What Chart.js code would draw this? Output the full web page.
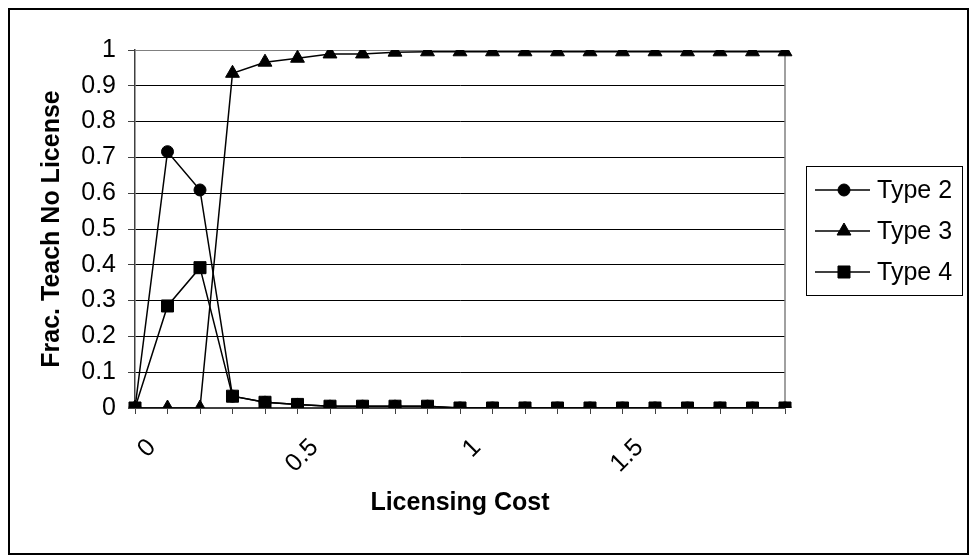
<!DOCTYPE html>
<html>
<head>
<meta charset="utf-8">
<script src="https://cdn.jsdelivr.net/npm/chart.js@4.4.1/dist/chart.umd.min.js"></script>
<style>
  html, body { margin: 0; padding: 0; background: #fff; }
  #wrap { width: 973px; height: 560px; }
</style>
</head>
<body>
<div id="wrap"><canvas id="c" width="973" height="560"></canvas></div>
<script>
// Licensing cost categories (x axis)
const costs = ['0','0.1','0.2','0.3','0.4','0.5','0.6','0.7','0.8','0.9',
               '1','1.1','1.2','1.3','1.4','1.5','1.6','1.7','1.8','1.9','2'];
// Category labels that are printed under the axis
const xTickLabels = ['0', '0.5', '1', '1.5'];

// Fraction of agents that teach with no license
const type2 = [0, 0.716, 0.609, 0.033, 0.016, 0.010, 0.005, 0.005, 0.005, 0.005,
               0, 0, 0, 0, 0, 0, 0, 0, 0, 0, 0];
const type3 = [0, 0, 0, 0.935, 0.966, 0.977, 0.989, 0.989, 0.994, 0.995,
               0.995, 0.995, 0.995, 0.995, 0.995, 0.995, 0.995, 0.995, 0.995, 0.995, 0.995];
const type4 = [0, 0.285, 0.392, 0.033, 0.016, 0.010, 0.005, 0.005, 0.005, 0.005,
               0, 0, 0, 0, 0, 0, 0, 0, 0, 0, 0];

const seriesNames = ['Type 2', 'Type 3', 'Type 4'];
const yTitle = 'Frac. Teach No License';
const xTitle = 'Licensing Cost';

const FONT = "'Liberation Sans', Arial, Helvetica, sans-serif";
Chart.defaults.font.family = FONT;
Chart.defaults.color = '#000';

// Chart frame, plot-area border and the boxed legend
const frame = {
  id: 'frame',
  beforeDraw(chart) {
    const ctx = chart.ctx;
    ctx.save();
    ctx.fillStyle = '#fff';
    ctx.fillRect(0, 0, chart.width, chart.height);
    ctx.strokeStyle = '#000';
    ctx.lineWidth = 2;
    ctx.strokeRect(9, 9, chart.width - 14, chart.height - 15);
    ctx.restore();
  },
  beforeDatasetsDraw(chart) {
    const { ctx, chartArea: a } = chart;
    ctx.save();
    ctx.strokeStyle = '#808080';
    ctx.lineWidth = 1.5;
    ctx.beginPath();
    ctx.moveTo(a.right, a.top);
    ctx.lineTo(a.right, a.bottom);
    ctx.stroke();
    ctx.restore();
  },
  afterDraw(chart) {
    const { ctx, chartArea: a } = chart;
    const bx = a.right + 21, by = 166, bw = 156, bh = 129, rowGap = 41;
    ctx.save();
    ctx.strokeStyle = '#000';
    ctx.lineWidth = 1;
    ctx.strokeRect(bx + 0.5, by + 0.5, bw, bh);
    ctx.font = '25px ' + FONT;
    ctx.textBaseline = 'middle';
    ctx.textAlign = 'left';
    chart.data.datasets.forEach((ds, i) => {
      const y = by + 24 + i * rowGap;
      ctx.strokeStyle = '#000';
      ctx.lineWidth = 1.5;
      ctx.beginPath();
      ctx.moveTo(bx + 9, y);
      ctx.lineTo(bx + 64, y);
      ctx.stroke();
      ctx.fillStyle = '#000';
      ctx.lineWidth = 1;
      Chart.helpers.drawPoint(ctx, { pointStyle: ds.pointStyle, radius: ds.pointRadius, borderWidth: 1, rotation: 0 }, bx + 38, y);
      ctx.fillStyle = '#000';
      ctx.fillText(ds.label, bx + 71, y + 1);
    });
    ctx.restore();
  }
};

const common = {
  borderColor: '#000',
  backgroundColor: '#000',
  pointBackgroundColor: '#000',
  pointBorderColor: '#000',
  borderWidth: 1.5,
  pointBorderWidth: 1,
  tension: 0,
  fill: false
};

new Chart(document.getElementById('c'), {
  type: 'line',
  data: {
    labels: costs,
    datasets: [
      Object.assign({ label: seriesNames[0], data: type2, pointStyle: 'circle', pointRadius: 6, order: 3 }, common),
      Object.assign({ label: seriesNames[1], data: type3, pointStyle: 'triangle', pointRadius: 8, order: 2 }, common),
      Object.assign({ label: seriesNames[2], data: type4, pointStyle: 'rect', pointRadius: 8.5, order: 1 }, common)
    ]
  },
  options: {
    responsive: false,
    animation: false,
    events: [],
    layout: { padding: { top: 50, right: 188, bottom: 0, left: 0 } },
    plugins: { legend: { display: false }, tooltip: { enabled: false } },
    scales: {
      x: {
        type: 'category',
        offset: false,
        grid: { display: true, drawOnChartArea: false, drawTicks: true, tickLength: 6, color: '#404040' },
        border: { display: true, color: '#404040', width: 1.5 },
        ticks: {
          autoSkip: false,
          minRotation: 45,
          maxRotation: 45,
          labelOffset: 17,
          padding: 19,
          font: { size: 25 },
          color: '#000',
          callback(value, index) {
            const lab = costs[index];
            return xTickLabels.includes(lab) ? lab : '';
          }
        },
        title: { display: true, text: xTitle, font: { size: 25, weight: 'bold' }, padding: { top: 0, bottom: 42 }, color: '#000' },
        afterFit(scale) { scale.height = 152; scale.paddingLeft = 0; scale.paddingRight = 0; }
      },
      y: {
        min: 0,
        max: 1,
        ticks: {
          stepSize: 0.1,
          padding: 12,
          font: { size: 25 },
          color: '#000',
          callback(v) { return String(Math.round(v * 10) / 10); }
        },
        grid: {
          drawTicks: true,
          tickLength: 7,
          tickColor: '#404040',
          lineWidth: 1,
          color(ctx) {
            const v = ctx.tick ? Math.round(ctx.tick.value * 10) / 10 : 0;
            if (v === 1) return '#808080';
            if (v === 0) return '#404040';
            return '#000';
          }
        },
        border: { display: true, color: '#404040', width: 1.5 },
        title: { display: true, text: yTitle, font: { size: 25, weight: 'bold' }, padding: { top: 37, bottom: 0 }, color: '#000' },
        afterFit(scale) { scale.width = 135; scale.paddingTop = 0; scale.paddingBottom = 0; }
      }
    }
  },
  plugins: [frame]
});
</script>
</body>
</html>
